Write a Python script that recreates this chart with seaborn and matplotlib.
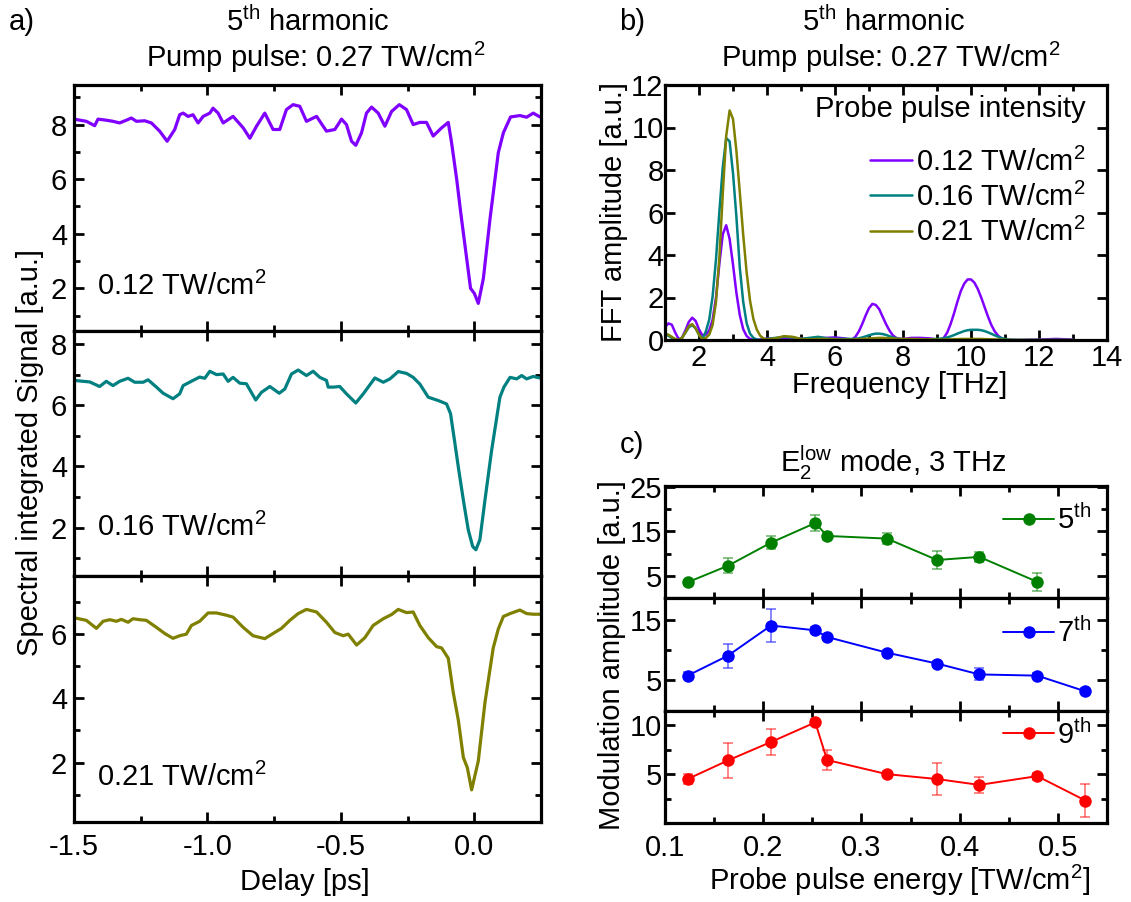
import matplotlib
matplotlib.use("Agg")
import matplotlib.pyplot as plt
import seaborn as sns
from matplotlib.ticker import MultipleLocator, FormatStrFormatter, FixedLocator

# ---------------- data: panel a (delay traces) ----------------
delay_012 = [-1.5, -1.454, -1.4225, -1.41, -1.379, -1.354, -1.329, -1.304, -1.285, -1.266, -1.235, -1.21,
             -1.179, -1.151, -1.1225, -1.104, -1.091, -1.0725, -1.054, -1.035, -1.016, -0.991, -0.979, -0.96,
             -0.941, -0.904, -0.866, -0.841, -0.816, -0.785, -0.754, -0.729, -0.704, -0.679, -0.654, -0.629,
             -0.591, -0.554, -0.5225, -0.4975, -0.479, -0.46, -0.444, -0.4225, -0.404, -0.385, -0.36, -0.335,
             -0.31, -0.281, -0.254, -0.229, -0.204, -0.179, -0.154, -0.1225, -0.0975, -0.085, -0.066, -0.051,
             -0.035, -0.014, 0.0, 0.015, 0.034, 0.059, 0.09, 0.109, 0.136, 0.171, 0.196, 0.221, 0.246]
signal_012 = [8.20, 8.12, 7.96, 8.20, 8.16, 8.12, 8.06, 8.16, 8.24, 8.12, 8.14, 8.06,
              7.76, 7.39, 7.82, 8.36, 8.42, 8.30, 8.36, 8.06, 8.30, 8.42, 8.60, 8.42,
              8.06, 8.30, 7.88, 7.50, 7.94, 8.42, 7.82, 7.82, 8.55, 8.73, 8.67, 8.12,
              8.30, 7.76, 7.82, 8.20, 8.00, 7.39, 7.24, 7.70, 8.42, 8.64, 8.42, 7.94,
              8.48, 8.73, 8.55, 8.00, 8.08, 8.08, 7.58, 7.88, 8.08, 7.33, 6.00, 4.79,
              3.58, 2.00, 1.82, 1.45, 2.36, 4.55, 6.97, 7.70, 8.28, 8.33, 8.27, 8.42, 8.28]

delay_016 = [-1.5, -1.441, -1.404, -1.379, -1.354, -1.329, -1.2975, -1.2725, -1.241, -1.2225, -1.191, -1.166,
             -1.129, -1.104, -1.091, -1.054, -1.029, -1.01, -0.991, -0.966, -0.941, -0.9225, -0.904, -0.879,
             -0.854, -0.829, -0.819, -0.7975, -0.766, -0.731, -0.71, -0.685, -0.66, -0.629, -0.604, -0.579,
             -0.554, -0.5475, -0.529, -0.504, -0.479, -0.444, -0.416, -0.3725, -0.341, -0.316, -0.285, -0.254,
             -0.229, -0.204, -0.1725, -0.135, -0.104, -0.089, -0.0725, -0.06, -0.041, -0.0225, -0.006, 0.006,
             0.021, 0.04, 0.065, 0.096, 0.111, 0.134, 0.159, 0.1775, 0.196, 0.221, 0.246]
signal_016 = [6.82, 6.77, 6.62, 6.79, 6.65, 6.79, 6.89, 6.76, 6.76, 6.84, 6.60, 6.40,
              6.22, 6.38, 6.65, 6.82, 6.93, 6.89, 7.12, 7.01, 7.03, 6.79, 6.92, 6.73,
              6.71, 6.33, 6.18, 6.43, 6.62, 6.40, 6.54, 7.03, 7.16, 6.98, 7.12, 6.92,
              6.82, 6.60, 6.60, 6.62, 6.38, 6.08, 6.38, 6.90, 6.76, 6.87, 7.11, 7.05,
              6.92, 6.70, 6.27, 6.16, 6.05, 5.73, 4.75, 3.99, 2.90, 1.92, 1.38, 1.27,
              1.60, 2.90, 4.53, 6.27, 6.60, 6.92, 6.87, 6.98, 6.87, 6.95, 6.90]

delay_021 = [-1.5, -1.454, -1.416, -1.391, -1.366, -1.341, -1.3225, -1.2975, -1.279, -1.254, -1.229, -1.191,
             -1.16, -1.129, -1.104, -1.079, -1.06, -1.029, -0.9975, -0.966, -0.929, -0.904, -0.866, -0.829,
             -0.785, -0.754, -0.7225, -0.691, -0.66, -0.629, -0.591, -0.554, -0.5225, -0.491, -0.4725, -0.441,
             -0.41, -0.379, -0.341, -0.31, -0.285, -0.254, -0.229, -0.204, -0.1725, -0.141, -0.1225, -0.0975,
             -0.079, -0.06, -0.041, -0.026, -0.01, 0.015, 0.04, 0.071, 0.09, 0.109, 0.134, 0.171, 0.196,
             0.221, 0.246]
signal_021 = [6.51, 6.43, 6.18, 6.40, 6.45, 6.40, 6.46, 6.37, 6.48, 6.45, 6.43, 6.21,
              6.02, 5.87, 5.95, 6.00, 6.27, 6.40, 6.66, 6.66, 6.59, 6.53, 6.21, 5.95,
              5.86, 6.02, 6.18, 6.43, 6.64, 6.77, 6.69, 6.37, 6.05, 5.95, 6.00, 5.66,
              5.89, 6.27, 6.48, 6.61, 6.77, 6.67, 6.69, 6.27, 5.89, 5.61, 5.57, 5.25,
              4.19, 3.33, 2.16, 1.84, 1.15, 2.05, 3.87, 5.57, 6.16, 6.55, 6.64, 6.75, 6.64,
              6.62, 6.62]

# ---------------- data: panel b (FFT spectra) ----------------
freq = [1.0, 1.1, 1.2, 1.3, 1.4, 1.5, 1.6, 1.7, 1.8, 1.9, 2.0, 2.1, 2.2, 2.3, 2.4, 2.5, 2.6, 2.7, 2.8, 2.9,
        3.0, 3.1, 3.2, 3.3, 3.4, 3.5, 3.6, 3.7, 3.8, 3.9, 4.0,
        4.25, 4.5, 4.75, 5.0, 5.25, 5.5, 5.75, 6.0, 6.25, 6.5,
        6.6, 6.7, 6.8, 6.9, 7.0, 7.1, 7.2, 7.3, 7.4, 7.5, 7.6, 7.7, 7.8, 7.9, 8.0,
        8.25, 8.5, 8.75, 9.0,
        9.1, 9.2, 9.3, 9.4, 9.5, 9.6, 9.7, 9.8, 9.9, 10.0, 10.1, 10.2, 10.3, 10.4, 10.5, 10.6, 10.7, 10.8,
        10.9, 11.0, 11.1, 11.2,
        11.5, 12.0, 12.5, 13.0]
fft_012 = [0.60, 0.78, 0.72, 0.35, 0.05, 0.10, 0.45, 0.85, 1.05, 0.90, 0.50, 0.22, 0.25, 0.45, 0.95, 2.00,
           3.60, 4.98, 5.40, 4.76, 3.55, 2.22, 1.17, 0.51, 0.19, 0.05, 0.00, 0.00, 0.02, 0.05, 0.06,
           0.06, 0.10, 0.08, 0.05, 0.06, 0.10, 0.10, 0.12, 0.08, 0.02,
           0.15, 0.40, 0.75, 1.15, 1.50, 1.70, 1.65, 1.45, 1.10, 0.75, 0.45, 0.22, 0.10, 0.06, 0.05,
           0.10, 0.10, 0.08, 0.03,
           0.02, 0.10, 0.35, 0.75, 1.25, 1.80, 2.30, 2.65, 2.85, 2.85, 2.70, 2.40, 2.00, 1.55, 1.10, 0.70,
           0.40, 0.20, 0.08, 0.02, 0.00, 0.00,
           0.00, 0.02, 0.05, 0.02]
fft_016 = [0.25, 0.20, 0.10, 0.03, 0.00, 0.10, 0.35, 0.60, 0.70, 0.55, 0.25, 0.05, 0.40, 0.95, 2.05, 3.80,
           6.05, 8.15, 9.50, 9.35, 7.85, 5.80, 3.40, 1.80, 0.80, 0.30, 0.10, 0.02, 0.00, 0.02, 0.05,
           0.10, 0.15, 0.12, 0.05, 0.10, 0.15, 0.08, 0.05, 0.05, 0.05,
           0.06, 0.08, 0.12, 0.17, 0.22, 0.27, 0.30, 0.30, 0.28, 0.24, 0.18, 0.12, 0.08, 0.05, 0.03,
           0.02, 0.02, 0.03, 0.05,
           0.06, 0.08, 0.12, 0.17, 0.23, 0.30, 0.36, 0.42, 0.46, 0.48, 0.48, 0.48, 0.46, 0.42, 0.36, 0.29,
           0.22, 0.15, 0.09, 0.05, 0.02, 0.01,
           0.00, 0.00, 0.00, 0.00]
fft_021 = [0.30, 0.25, 0.15, 0.05, 0.00, 0.10, 0.35, 0.65, 0.75, 0.55, 0.25, 0.03, 0.10, 0.25, 0.70, 1.80,
           3.90, 6.90, 9.60, 10.80, 10.40, 8.90, 6.95, 4.95, 3.20, 1.86, 0.99, 0.49, 0.20, 0.07, 0.03,
           0.08, 0.18, 0.15, 0.05, 0.03, 0.05, 0.05, 0.03, 0.02, 0.02,
           0.03, 0.04, 0.05, 0.06, 0.07, 0.08, 0.09, 0.10, 0.10, 0.09, 0.08, 0.07, 0.06, 0.05, 0.05,
           0.05, 0.04, 0.03, 0.02,
           0.02, 0.02, 0.03, 0.03, 0.04, 0.04, 0.05, 0.05, 0.05, 0.05, 0.05, 0.05, 0.05, 0.04, 0.04, 0.03,
           0.03, 0.02, 0.02, 0.01, 0.01, 0.00,
           0.00, 0.00, 0.00, 0.00]

probe_labels = ["0.12 TW/cm$^2$", "0.16 TW/cm$^2$", "0.21 TW/cm$^2$"]

# ---------------- data: panel c (modulation amplitude) ----------------
energy_5th = [0.123, 0.164, 0.208, 0.253, 0.265, 0.326, 0.377, 0.420, 0.479]
amp_5th = [3.6, 7.3, 12.5, 16.9, 14.0, 13.4, 8.6, 9.3, 3.7]
err_5th = [0.5, 1.7, 1.4, 1.8, 0.9, 1.3, 2.0, 1.2, 2.0]

energy_7th = [0.123, 0.164, 0.208, 0.253, 0.265, 0.326, 0.377, 0.420, 0.479, 0.528]
amp_7th = [5.8, 9.1, 14.1, 13.3, 12.2, 9.6, 7.8, 6.0, 5.8, 3.2]
err_7th = [0.6, 2.0, 2.7, 0.5, 0.5, 0.5, 0.5, 1.0, 0.5, 0.5]

energy_9th = [0.123, 0.164, 0.208, 0.253, 0.265, 0.326, 0.377, 0.420, 0.479, 0.528]
amp_9th = [4.5, 6.4, 8.3, 10.3, 6.45, 5.0, 4.5, 3.9, 4.8, 2.3]
err_9th = [0.5, 1.8, 1.3, 0.3, 1.05, 0.3, 1.6, 0.8, 0.35, 1.65]

harmonic_labels = ["5$^{\\mathrm{th}}$", "7$^{\\mathrm{th}}$", "9$^{\\mathrm{th}}$"]

# ---------------- style ----------------
sns.set_theme(style="white")
plt.rcParams.update({
    "font.family": ["Liberation Sans", "DejaVu Sans"],
    "mathtext.fontset": "custom",
    "mathtext.rm": "Liberation Sans",
    "mathtext.it": "Liberation Sans:italic",
    "mathtext.bf": "Liberation Sans:bold",
    "axes.unicode_minus": False,
    "font.size": 21,
    "text.color": "black",
    "axes.labelcolor": "black",
    "xtick.color": "black",
    "ytick.color": "black",
})

FS = 21
col_a = ["#8000ff", "#008080", "#808000"]
col_c = ["#008000", "#0000ff", "#ff0000"]

fig = plt.figure(figsize=(11.31, 9.02), dpi=100)


def style(ax, xpad=8, ypad=5):
    for s in ax.spines.values():
        s.set_visible(True)
        s.set_linewidth(2.3)
        s.set_color("black")
    ax.tick_params(which="both", direction="in", top=True, right=True, bottom=True, left=True,
                   width=2.0, color="black", labelsize=FS)
    ax.tick_params(which="major", length=7)
    ax.tick_params(which="minor", length=4)
    ax.tick_params(axis="x", pad=xpad)
    ax.tick_params(axis="y", pad=ypad)
    ax.set_xlabel("")
    ax.set_ylabel("")


# ---------------- panel a ----------------
W = 1131.0
H = 902.0
a_left, a_w = 74 / W, 467 / W
a_h = (822 - 85) / 3 / H
a_bottoms = [1 - 85 / H - a_h, 1 - 85 / H - 2 * a_h, 1 - 822 / H]
a_data = [(delay_012, signal_012), (delay_016, signal_016), (delay_021, signal_021)]
a_ylims = [(0.45, 9.45), (0.4, 8.45), (0.15, 7.8)]
a_texty = [0.18, 0.2, 0.18]
for i in range(3):
    ax = fig.add_axes([a_left, a_bottoms[i], a_w, a_h])
    d, s = a_data[i]
    sns.lineplot(x=d, y=s, ax=ax, color=col_a[i], linewidth=2.3, estimator=None, sort=False)
    ax.set_xlim(-1.5, 0.25)
    ax.set_ylim(*a_ylims[i])
    style(ax, xpad=8, ypad=5)
    ax.xaxis.set_major_locator(MultipleLocator(0.5))
    ax.xaxis.set_minor_locator(MultipleLocator(0.25))
    ax.xaxis.set_major_formatter(FormatStrFormatter("%.1f"))
    ax.yaxis.set_major_locator(MultipleLocator(2))
    ax.yaxis.set_minor_locator(MultipleLocator(1))
    if i < 2:
        ax.tick_params(labelbottom=False)
    ax.text(0.05, a_texty[i], probe_labels[i], transform=ax.transAxes, fontsize=FS,
            ha="left", va="center")

# ---------------- panel b ----------------
axb = fig.add_axes([665 / W, 1 - 340 / H, 442 / W, 255 / H])
for vals, c, lab in zip([fft_012, fft_016, fft_021], col_a, probe_labels):
    sns.lineplot(x=freq, y=vals, ax=axb, color=c, linewidth=1.8, estimator=None, sort=False, label=lab)
axb.set_xlim(1, 14)
axb.set_ylim(0, 12)
style(axb, xpad=3, ypad=1)
axb.xaxis.set_major_locator(MultipleLocator(2))
axb.xaxis.set_minor_locator(MultipleLocator(1))
axb.yaxis.set_major_locator(MultipleLocator(2))
axb.text(0.952, 0.905, "Probe pulse intensity", transform=axb.transAxes, fontsize=FS,
         ha="right", va="center")
axb.legend(loc="upper right", bbox_to_anchor=(0.952, 0.755), frameon=False, fontsize=FS,
           handlelength=1.45, handletextpad=0.15, labelspacing=0.2,
           borderaxespad=0.0, borderpad=0.0)

# ---------------- panel c ----------------
c_h = (823 - 486) / 3 / H
c_bottoms = [1 - 486 / H - c_h, 1 - 486 / H - 2 * c_h, 1 - 823 / H]
c_data = [(energy_5th, amp_5th, err_5th), (energy_7th, amp_7th, err_7th), (energy_9th, amp_9th, err_9th)]
c_ylims = [(0, 25.2), (0, 18.6), (0, 11.5)]
c_major = [[5, 15, 25], [5, 15], [5, 10]]
c_minor = [[10, 20], [10], [2.5, 7.5]]
c_leg_y = [0.70, 0.69, 0.79]
for i in range(3):
    ax = fig.add_axes([665 / W, c_bottoms[i], 442 / W, c_h])
    e, a, er = c_data[i]
    ax.errorbar(e, a, yerr=er, fmt="none", ecolor=col_c[i], alpha=0.55, capsize=3.5,
                elinewidth=1.2, capthick=1.2, zorder=1)
    sns.lineplot(x=e, y=a, ax=ax, color=col_c[i], linewidth=1.4, marker="o", markersize=9,
                 markeredgewidth=0, estimator=None, sort=False, label=harmonic_labels[i], zorder=3)
    ax.set_xlim(0.1, 0.55)
    ax.set_ylim(*c_ylims[i])
    style(ax, xpad=8, ypad=2)
    ax.xaxis.set_major_locator(MultipleLocator(0.1))
    ax.xaxis.set_minor_locator(MultipleLocator(0.05))
    ax.xaxis.set_major_formatter(FormatStrFormatter("%.1f"))
    ax.yaxis.set_major_locator(FixedLocator(c_major[i]))
    ax.yaxis.set_minor_locator(FixedLocator(c_minor[i]))
    if i < 2:
        ax.tick_params(labelbottom=False)
    ax.legend(loc="center right", bbox_to_anchor=(0.965, c_leg_y[i]), frameon=False, fontsize=FS,
              handlelength=1.75, handletextpad=0.1, borderaxespad=0.0, borderpad=0.0)

# ---------------- texts ----------------
def ft(x, y, s, **kw):
    fig.text(x / W, 1 - y / H, s, ha=kw.pop("ha", "center"), va=kw.pop("va", "center"),
             fontsize=kw.pop("fontsize", FS), **kw)

ft(22, 22, "a)")
ft(632, 22, "b)")
ft(632, 445, "c)")
ft(308, 22, "5$^{\\mathrm{th}}$ harmonic")
ft(316, 57, "Pump pulse: 0.27 TW/cm$^2$")
ft(884, 22, "5$^{\\mathrm{th}}$ harmonic")
ft(891, 57, "Pump pulse: 0.27 TW/cm$^2$")
ft(893, 463, "E$_2^{\\mathrm{low}}$ mode, 3 THz")
ft(30, 453, "Spectral integrated Signal [a.u.]", rotation=90)
ft(305, 882, "Delay [ps]")
ft(614, 212, "FFT amplitude [a.u.]", rotation=90)
ft(900, 385, "Frequency [THz]")
ft(612, 655, "Modulation amplitude [a.u.]", rotation=90)
ft(900, 880, "Probe pulse energy [TW/cm$^2$]")

fig.savefig("out.png", dpi=100)
